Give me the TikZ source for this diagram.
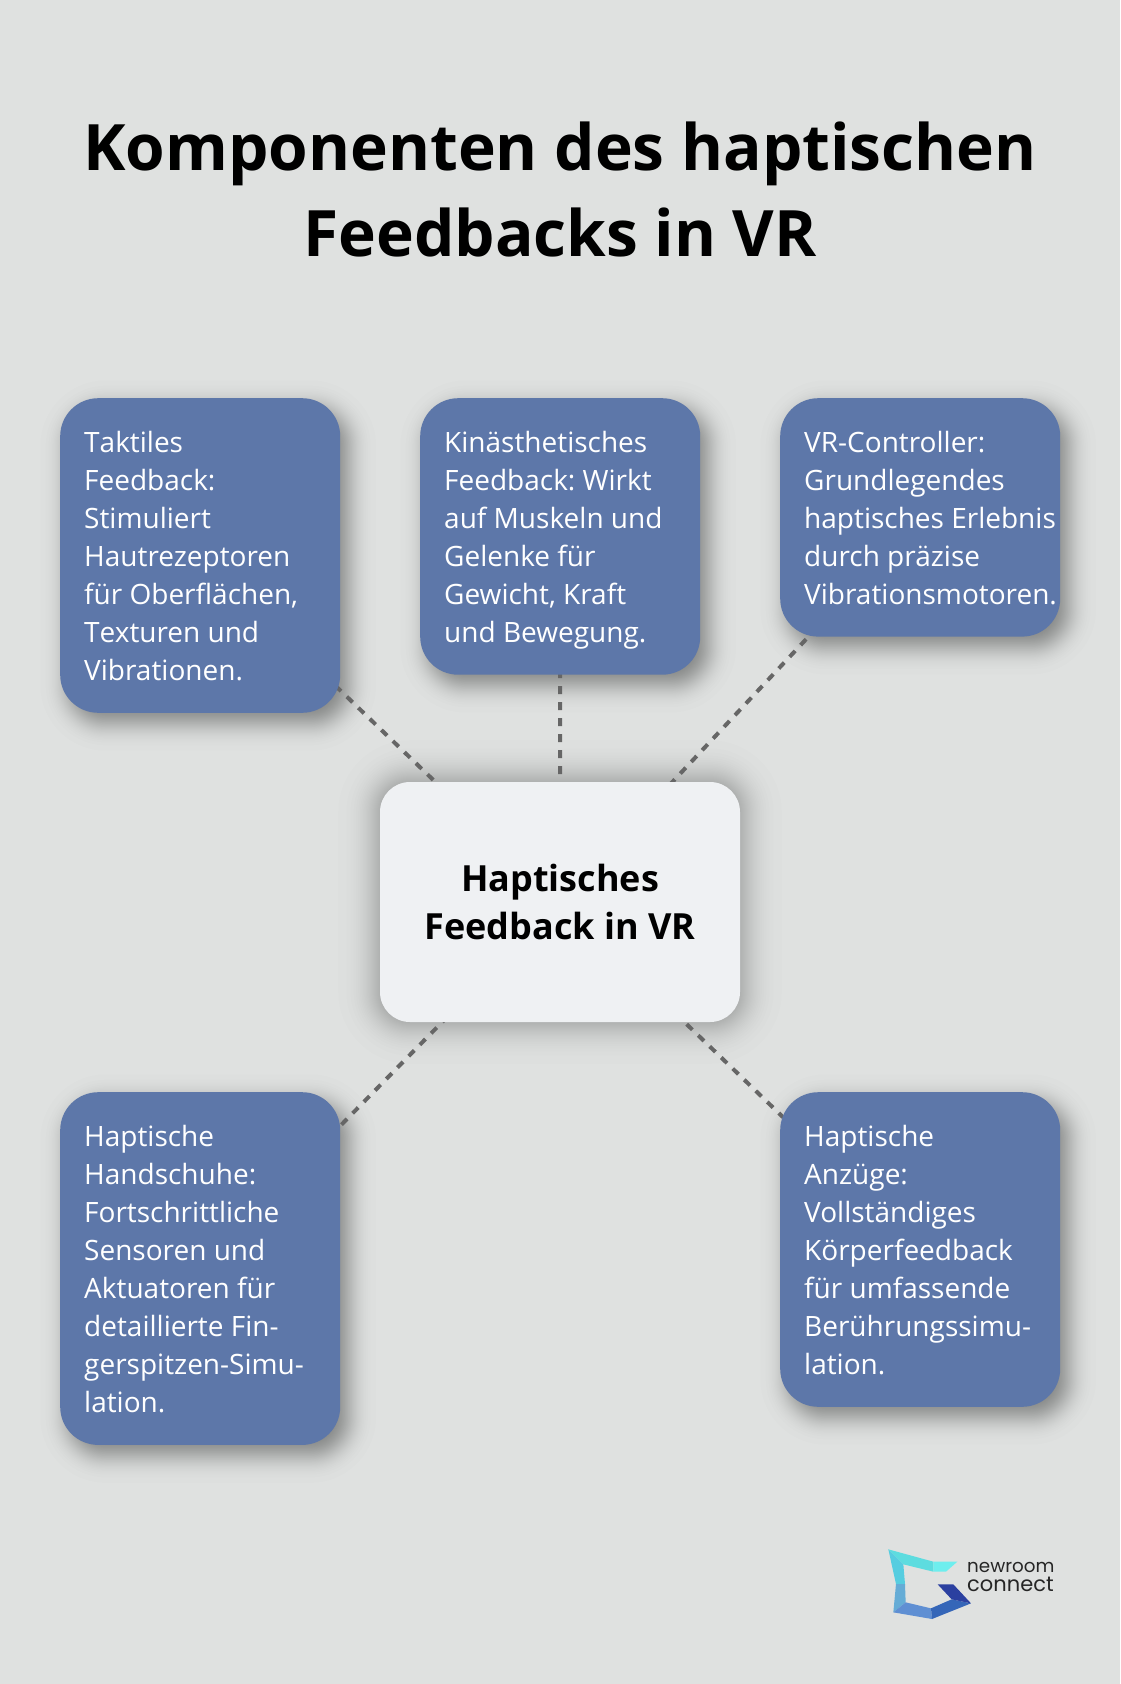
\documentclass[tikz,border=0pt]{standalone}
\usepackage{fontspec}
\setmainfont{Open Sans}
\newfontfamily\logofont{Poppins}
\usetikzlibrary{calc}
\pgfdeclarelayer{back}
\pgfdeclarelayer{links}
\pgfsetlayers{back,links,main}
\definecolor{pagebg}{HTML}{DFE1E0}
\definecolor{boxblue}{HTML}{5D77A9}
\definecolor{hubfill}{HTML}{EFF1F3}
\definecolor{linkgrey}{HTML}{666666}
\definecolor{logoA}{RGB}{93,220,223}
\definecolor{logoB}{RGB}{110,238,238}
\definecolor{logoC}{RGB}{86,205,224}
\definecolor{logoD}{RGB}{101,172,214}
\definecolor{logoE}{RGB}{95,143,211}
\definecolor{logoF}{RGB}{53,102,184}
\definecolor{logoG}{RGB}{43,64,160}
\newcommand{\linestrut}{\rule[-8.1pt]{0pt}{38pt}}
\newcommand{\softshadow}[6]{% node, dx, dy, sigma, radius, alpha per layer
  \foreach \z in {2.31,1.86,1.625,1.455,1.32,1.2,1.1,1.01,.927,.85,.776,.706,.643,.58,.519,.46,.4,.345,.292,.238,.184,.131,.078,.026,
    -.026,-.078,-.131,-.184,-.238,-.292,-.345,-.4,-.46,-.519,-.58,-.643,-.706,-.776,-.85,-.927,-1.01,-1.1,-1.2,-1.32,-1.455,-1.625,-1.86,-2.31}{
    \pgfmathsetmacro{\s}{#4*\z}
    \pgfmathsetmacro{\rr}{max(2,#5+\s)}
    \fill[black,opacity=#6,rounded corners=\rr pt]
      ($(#1.north west)+(#2-\s,#3-\s)$) rectangle ($(#1.south east)+(#2+\s,#3+\s)$);
  }}
\tikzset{
  x=1pt,y=-1pt,
  infobox/.style={fill=boxblue,text=white,rounded corners=38pt,inner sep=24pt,
    text width=232pt,align=flush left,anchor=north west,
    font=\fontsize{28}{38.1}\selectfont\frenchspacing,
    execute at begin node=\linestrut,execute at end node=\linestrut},
  hubbox/.style={fill=hubfill,text=black,rounded corners=30pt,inner sep=0pt,
    minimum width=360pt,minimum height=240pt,align=center,
    font=\fontsize{36}{47.7}\selectfont\bfseries,
    execute at begin node=\rule{0pt}{30.5pt}},
  titlebox/.style={text=black,inner sep=0pt,align=center,
    font=\fontsize{64}{86}\selectfont\bfseries},
  logotext/.style={inner sep=0pt,anchor=base west,text=black!85},
  linkline/.style={draw=linkgrey,line width=4pt,dash pattern=on 8pt off 8pt},
}
\begin{document}
\begin{tikzpicture}
\useasboundingbox (0,0) rectangle (1120,1684);
\begin{pgfonlayer}{back}
\fill[pagebg] (0,0) rectangle (1120,1684);
\end{pgfonlayer}

\node[titlebox] (title) at (560,189.5) {Komponenten des haptischen\\Feedbacks in VR};

\node[hubbox] (hub) at (560,902) {Haptisches\\Feedback in VR};

\node[infobox] (a) at (60,398) {T\kern0pt aktiles\\Feedback:\\Stimuliert\\Hautrezeptoren\\für Oberflächen,\\T\kern0pt exturen und\\Vibrationen.};
\node[infobox] (b) at (420,398) {Kinästhetisches\\Feedback: Wirkt\\auf Muskeln und\\Gelenke für\\Gewicht, Kraft\\und Bewegung.};
\node[infobox] (c) at (780,398) {VR-Controller:\\Grundlegendes\\\mbox{haptisches Erlebnis}\\durch präzise\\\mbox{Vibrationsmotoren.}};
\node[infobox] (d) at (60,1092) {Haptische\\Handschuhe:\\Fortschrittliche\\Sensoren und\\Aktuatoren für\\detaillierte Fin-\\gerspitzen-Simu-\\lation.};
\node[infobox] (e) at (780,1092) {Haptische\\Anzüge:\\Vollständiges\\Körperfeedback\\für umfassende\\Berührungssimu-\\lation.};

\begin{pgfonlayer}{back}
\softshadow{hub}{0}{0}{18}{30}{0.006}
\foreach \n in {a,b,c,d,e}{\softshadow{\n}{8}{10}{12}{38}{0.008}}
\end{pgfonlayer}

\begin{pgfonlayer}{links}
\foreach \n in {a,b,c,d,e}{\draw[linkline] (hub.center) -- (\n.center);}
\end{pgfonlayer}

% logo
\begin{scope}[shift={(860,1520)},x=0.3333pt,y=-0.3333pt]
\fill[logoA] (85,88)--(220,125)--(220,155)--(130,133)--cycle;
\fill[logoB] (220,125)--(292,125)--(258,155)--(220,155)--cycle;
\fill[logoC] (85,88)--(130,133)--(135,192)--(108,192)--cycle;
\fill[logoD] (108,192)--(135,192)--(137,247)--(100,277)--cycle;
\fill[logoE] (100,277)--(137,247)--(213,265)--(216,297)--cycle;
\fill[logoF] (213,265)--(275,238)--(333,250)--(216,297)--cycle;
\fill[logoG] (233,193)--(280,193)--(333,250)--(275,238)--cycle;
\end{scope}
\node[logotext,font=\logofont\fontsize{18.3}{19}\selectfont] (logoa) at (967,1572) {newroom};
\node[logotext,font=\logofont\fontsize{21}{19}\selectfont] (logob) at (967,1591) {connect};
\end{tikzpicture}
\end{document}
